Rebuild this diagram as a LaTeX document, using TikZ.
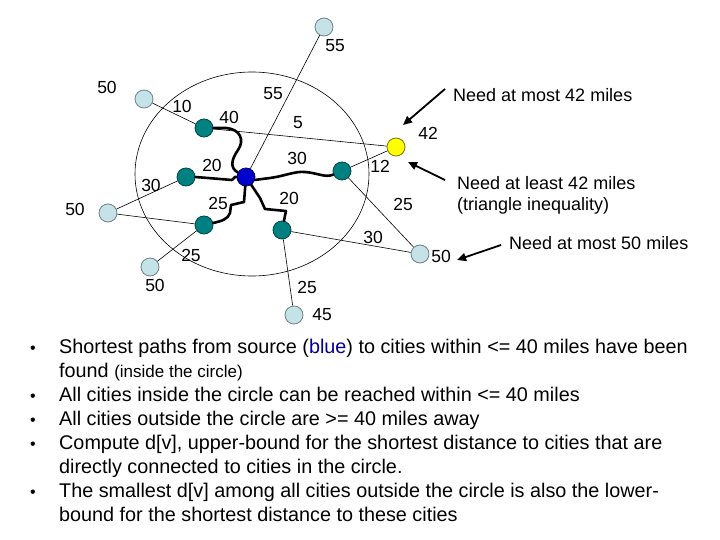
\documentclass[tikz,border=0pt]{standalone}
\usepackage{fontspec}
\setmainfont{Liberation Sans}
\usetikzlibrary{arrows.meta}
\definecolor{tealc}{RGB}{0,128,128}
\definecolor{tealb}{RGB}{0,70,70}
\definecolor{lblue}{RGB}{196,226,232}
\definecolor{lblueb}{RGB}{110,130,135}
\definecolor{srcblue}{RGB}{0,0,204}
\definecolor{srcb}{RGB}{0,0,90}
\definecolor{yel}{RGB}{255,255,0}
\definecolor{yelb}{RGB}{120,120,0}
\definecolor{txtblue}{RGB}{0,0,153}
\begin{document}
\begin{tikzpicture}[x=1pt,y=-1pt,
  city/.style={circle,minimum size=18pt,inner sep=0pt,line width=0.8pt},
  inner/.style={city,fill=tealc,draw=tealb},
  outer/.style={city,fill=lblue,draw=lblueb},
  src/.style={city,fill=srcblue,draw=srcb},
  cand/.style={city,fill=yel,draw=yelb},
  edge/.style={line width=0.6pt},
  tree/.style={line width=2.6pt,line join=round,line cap=round},
  lbl/.style={font=\fontsize{17.5}{20}\selectfont,inner sep=0pt},
  note/.style={font=\fontsize{18}{21}\selectfont,inner sep=0pt,anchor=west,align=left},
  arr/.style={line width=1.8pt,-{Triangle[length=9pt,width=8pt]}},
  bul/.style={font=\fontsize{19.8}{23}\selectfont,inner sep=0pt,anchor=base west}]
\useasboundingbox (0,0) rectangle (720,540);
% circle
\draw[line width=0.6pt] (252,174) ellipse [x radius=117pt, y radius=102pt];
% nodes
\node[outer] (Ltop) at (324,27) {};
\node[outer] (Lul) at (144,99) {};
\node[outer] (Lleft) at (108,213) {};
\node[outer] (Lll) at (150,267) {};
\node[outer] (Lbot) at (294,315) {};
\node[outer] (Lr) at (420,254) {};
\node[inner] (T1) at (204,128) {};
\node[inner] (T2) at (186,177) {};
\node[inner] (T3) at (204,225) {};
\node[inner] (T4) at (282,230) {};
\node[inner] (T5) at (342,171) {};
\node[cand] (Y) at (396,147) {};
\node[src] (S) at (246,177) {};
% thin edges
\draw[edge] (Ltop) -- (S);
\draw[edge] (Lul) -- (T1);
\draw[edge] (T1) -- (Y);
\draw[edge] (T5) -- (Y);
\draw[edge] (T5) -- (Lr);
\draw[edge] (T4) -- (Lr);
\draw[edge] (T4) -- (Lbot);
\draw[edge] (T2) -- (Lleft);
\draw[edge] (T3) -- (Lleft);
\draw[edge] (T3) -- (Lll);
% tree paths
\draw[tree] (T1.east) -- (226,128) .. controls (240,129) and (245,140) .. (238,150)
  .. controls (231,160) and (230,168) .. (S);
\draw[tree] (T2.east) -- (208,178) -- (232,180) -- (235,177) -- (S);
\draw[tree] (S) -- (244,202) -- (231,205) -- (230,213) .. controls (228,219) and (222,221) .. (T3);
\draw[tree] (S) -- (260,198) -- (265,209) -- (286,211) -- (T4);
\draw[tree] (S) .. controls (255,180) and (262,179) .. (270,178)
  .. controls (285,176) and (295,171) .. (305,172)
  .. controls (318,173) and (325,178) .. (T5);
% labels
\node[lbl] at (335,46) {55};
\node[lbl] at (273,94) {55};
\node[lbl] at (107,87) {50};
\node[lbl] at (182,106) {10};
\node[lbl] at (229,117) {40};
\node[lbl] at (298,123) {5};
\node[lbl] at (297,158) {30};
\node[lbl] at (212,165) {20};
\node[lbl] at (151,185) {30};
\node[lbl] at (75,209) {50};
\node[lbl] at (218,203) {25};
\node[lbl] at (289,198) {20};
\node[lbl] at (191,255) {25};
\node[lbl] at (155,285) {50};
\node[lbl] at (307,287) {25};
\node[lbl] at (322,315) {45};
\node[lbl] at (380,166) {12};
\node[lbl] at (428,133) {42};
\node[lbl] at (403,204) {25};
\node[lbl] at (373,237) {30};
\node[lbl] at (441,256) {50};
% notes
\node[note] (n1) at (453,95) {Need at most 42 miles};
\node[note] (n2) at (457,195) {Need at least 42 miles\\(triangle inequality)};
\node[note] (n3) at (509,243) {Need at most 50 miles};
\coordinate (a1s) at (445,89);
\coordinate (a1e) at (403,125);
\coordinate (a2s) at (445,180);
\coordinate (a2e) at (408,162);
\coordinate (a3s) at (501,245);
\coordinate (a3e) at (457,260);
\draw[arr] (a1s) -- (a1e);
\draw[arr] (a2s) -- (a2e);
\draw[arr] (a3s) -- (a3e);
% bullets
\foreach \yy in {353,401,425,449,497} \node[bul,font=\fontsize{16}{18}\selectfont] at (30,\yy) {•};
\node[bul] (b1) at (59,353) {Shortest paths from source (\textcolor{txtblue}{blue}) to cities within <= 40 miles have been};
\node[bul] (b1b) at (59,377) {found {\fontsize{17}{19}\selectfont(inside the circle)}};
\node[bul] (b2) at (59,401) {All cities inside the circle can be reached within <= 40 miles};
\node[bul] (b3) at (59,425) {All cities outside the circle are >= 40 miles away};
\node[bul] (b4) at (59,449) {Compute d[v], upper-bound for the shortest distance to cities that are};
\node[bul] (b4b) at (59,473) {directly connected to cities in the circle.};
\node[bul] (b5) at (59,497) {The smallest d[v] among all cities outside the circle is also the lower-};
\node[bul] (b5b) at (59,521) {bound for the shortest distance to these cities};
\end{tikzpicture}
\end{document}
